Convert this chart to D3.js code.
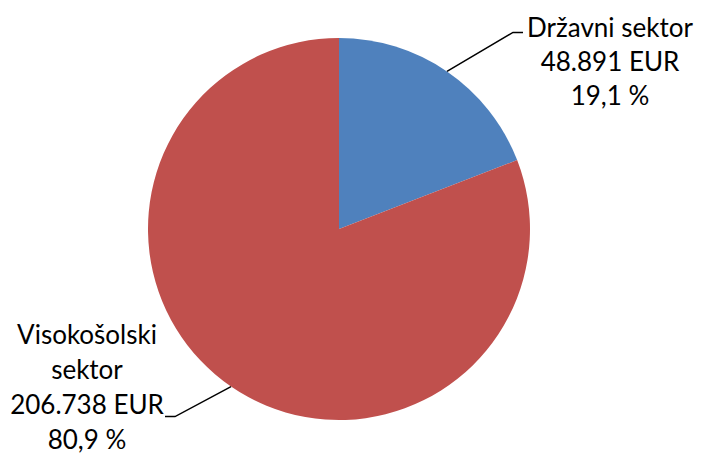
<!DOCTYPE html>
<html>
<head>
<meta charset="utf-8">
<script src="https://cdn.jsdelivr.net/npm/d3@7"></script>
<style>
  body { margin: 0; background: #fff; }
  text { font-family: Lato, "Open Sans", sans-serif; fill: #000; }
</style>
</head>
<body>
<div id="chart"></div>
<script>
// sectors and their amounts (EUR)
var categories = ["Državni sektor", "Visokošolski sektor"];
var values = [48891, 206738];
var colors = ["#4F81BD", "#C0504D"];
// label lines as they wrap in the picture
var labelLines = [["Državni sektor"], ["Visokošolski", "sektor"]];

var width = 703, height = 456;
var cx = 339, cy = 229, radius = 191;

var svg = d3.select("#chart").append("svg")
    .attr("width", width)
    .attr("height", height);

var g = svg.append("g").attr("transform", "translate(" + cx + "," + cy + ")");

var total = d3.sum(values);
var pie = d3.pie().sort(null).value(function(d) { return d; });
var arcs = pie(values);
var arc = d3.arc().innerRadius(0).outerRadius(radius);

g.selectAll("path.slice")
    .data(arcs)
    .enter().append("path")
    .attr("class", "slice")
    .attr("d", arc)
    .attr("fill", function(d, i) { return colors[i]; });

var fmtNum = function(v) { return d3.format(",")(v).replace(/,/g, "."); };
var fmtPct = function(v) { return d3.format(".1f")(v * 100).replace(".", ",") + " %"; };

// leader lines: from the arc midpoint out to a short horizontal tail
// elbow offsets relative to the slice midpoint
var elbows = [{dx: 66, dy: -39, tail: 10}, {dx: -56, dy: 30, tail: -10}];
var labelPos = [{x: 610, y: 28, step: 34}, {x: 87, y: 335, step: 35}];

arcs.forEach(function(d, i) {
  var a = (d.startAngle + d.endAngle) / 2;
  var x0 = Math.sin(a) * radius, y0 = -Math.cos(a) * radius;
  var x1 = x0 + elbows[i].dx, y1 = y0 + elbows[i].dy;
  g.append("polyline")
      .attr("points", [[x0, y0], [x1, y1], [x1 + elbows[i].tail, y1]].map(function(p) { return p.join(","); }).join(" "))
      .attr("fill", "none")
      .attr("stroke", "#000")
      .attr("stroke-width", 1.5);

  var lines = labelLines[i].concat([fmtNum(values[i]) + " EUR", fmtPct(values[i] / total)]);
  var t = svg.append("text")
      .attr("text-anchor", "middle")
      .attr("font-size", 26);
  lines.forEach(function(s, k) {
    t.append("tspan")
        .attr("x", labelPos[i].x)
        .attr("y", labelPos[i].y + k * labelPos[i].step)
        .attr("dy", "0.35em")
        .text(s);
  });
});
</script>
</body>
</html>
